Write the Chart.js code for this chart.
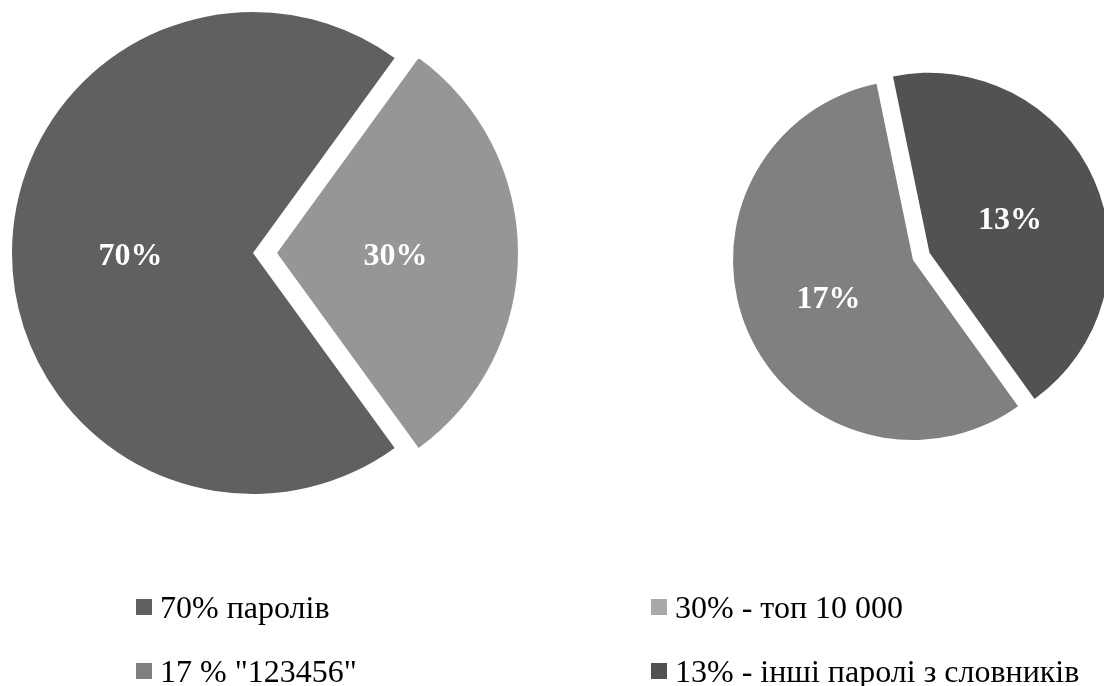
<!DOCTYPE html>
<html>
<head>
<meta charset="utf-8">
<script src="https://cdn.jsdelivr.net/npm/chart.js@4.4.1/dist/chart.umd.min.js"></script>
<style>
    body { margin: 0; background: #fff; }
    #wrap { position: relative; width: 1104px; height: 686px; overflow: hidden; }
    #wrap canvas { position: absolute; left: 0; top: 0; }
    .item { position: absolute; display: flex; align-items: center; height: 32px;
            font-family: "Liberation Serif", "Times New Roman", serif; font-size: 32px; color: #000; white-space: pre; }
    .item span.box { display: inline-block; width: 16px; height: 16px; margin-right: 8px; }
</style>
</head>
<body>
<div id="wrap">
    <canvas id="pieMain" width="1104" height="686"></canvas>
    <canvas id="pieSub" width="1104" height="686"></canvas>
</div>
<script>
// Pie 1: all passwords
const mainLabels = ['30%', '70%'];
const mainValues = [30, 70];
const mainColors = ['#969696', '#606060'];
const mainExplode = [24, 0];

// Pie 2: breakdown of the 30%
const subLabels = ['13%', '17%'];
const subValues = [13, 17];
const subColors = ['#525252', '#808080'];
const subExplode = [18, 0];

// Legend (two columns)
const legendLabels = ['70% паролів', '30% - топ 10 000', '17 % "123456"', '13% - інші паролі з словників'];
const legendColors = ['#606060', '#a9a9a9', '#808080', '#525252'];

// moves exploded slices out along their middle angle
const explodePlugin = {
    id: 'explode',
    afterDatasetsUpdate(chart, args, opts) {
        const meta = chart.getDatasetMeta(0);
        meta.data.forEach((arc, i) => {
            const d = opts.dist[i] || 0;
            const mid = (arc.startAngle + arc.endAngle) / 2;
            arc.x += Math.cos(mid) * d;
            arc.y += Math.sin(mid) * d;
        });
    }
};

// white bold percentages inside the slices
const labelPlugin = {
    id: 'sliceLabels',
    afterDatasetsDraw(chart) {
        const ctx = chart.ctx;
        const meta = chart.getDatasetMeta(0);
        const labels = chart.data.labels;
        ctx.save();
        ctx.font = 'bold 32px "Liberation Serif", "Times New Roman", serif';
        ctx.fillStyle = '#ffffff';
        ctx.textAlign = 'center';
        ctx.textBaseline = 'middle';
        meta.data.forEach((arc, i) => {
            const mid = (arc.startAngle + arc.endAngle) / 2;
            const r = arc.outerRadius * 0.5;
            ctx.fillText(labels[i], arc.x + Math.cos(mid) * r - 2, arc.y + Math.sin(mid) * r + 4);
        });
        ctx.restore();
    }
};

function crearPie(id, labels, values, colors, explode, rotation, padding) {
    const ctx = document.getElementById(id).getContext('2d');
    return new Chart(ctx, {
        type: 'pie',
        data: {
            labels: labels,
            datasets: [{
                data: values,
                backgroundColor: colors,
                borderWidth: 0,
                hoverOffset: 0,
                offset: 0
            }]
        },
        options: {
            responsive: false,
            animation: false,
            events: [],
            rotation: rotation,
            layout: { padding: padding },
            plugins: {
                legend: { display: false },
                tooltip: { enabled: false },
                explode: { dist: explode }
            }
        },
        plugins: [explodePlugin, labelPlugin]
    });
}

function crearLeyenda() {
    const wrap = document.getElementById('wrap');
    const cols = [136, 651];
    const rows = [591, 655];
    legendLabels.forEach((txt, i) => {
        const div = document.createElement('div');
        div.className = 'item';
        div.style.left = cols[i % 2] + 'px';
        div.style.top = rows[Math.floor(i / 2)] + 'px';
        const box = document.createElement('span');
        box.className = 'box';
        box.style.background = legendColors[i];
        div.appendChild(box);
        div.appendChild(document.createTextNode(txt));
        wrap.appendChild(div);
    });
}

document.addEventListener('DOMContentLoaded', () => {
    crearPie('pieMain', mainLabels, mainValues, mainColors, mainExplode, 36,
        { left: 12, top: 12, right: 610, bottom: 192 });
    crearPie('pieSub', subLabels, subValues, subColors, subExplode, -11.7,
        { left: 733, top: 80, right: 11, bottom: 246 });
    crearLeyenda();
});
</script>
</body>
</html>
